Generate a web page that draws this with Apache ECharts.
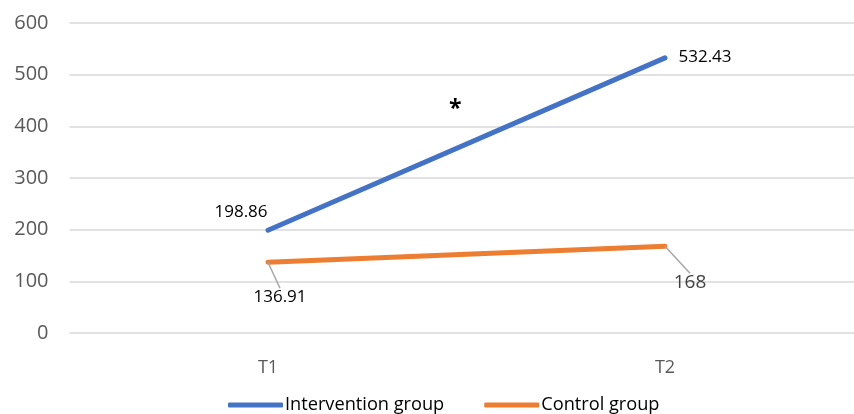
<!DOCTYPE html>
<html>
<head>
<meta charset="utf-8">
<script src="https://cdn.jsdelivr.net/npm/echarts@6/dist/echarts.min.js"></script>
<style>html,body{margin:0;padding:0;background:#fff}#c{width:854px;height:414px}</style>
</head>
<body>
<div id="c"></div>
<script>
var categories = ['T1', 'T2'];
var interventionValues = [198.86, 532.43];
var controlValues = [136.91, 168];
var yTicks = [0, 100, 200, 300, 400, 500, 600];
var seriesNames = ['Intervention group', 'Control group'];

var FONT = 'Open Sans';
var chart = echarts.init(document.getElementById('c'));
var layouts = [
  [{dx: -27, dy: -5}, {dx: 40, dy: 13}],
  [{dx: 12, dy: 48}, {dx: 25, dy: 51}]
];
chart.setOption({
  animation: false,
  textStyle: {fontFamily: FONT},
  grid: {left: 69.5, right: -9.5, top: 23, bottom: 81, outerBoundsMode: 'none', containLabel: false},
  legend: {
    bottom: -5, left: 223,
    itemWidth: 55, itemHeight: 5, itemGap: 40,
    icon: 'roundRect',
    textStyle: {fontSize: 18.2, color: '#000', fontFamily: FONT, padding: [0,0,0,-3]},
    data: seriesNames
  },
  xAxis: {
    type: 'category', data: categories, boundaryGap: true,
    axisLine: {show: false}, axisTick: {show: false},
    axisLabel: {fontSize: 18, color: '#595959', margin: 26, fontFamily: FONT}
  },
  yAxis: {
    type: 'value', min: yTicks[0], max: yTicks[yTicks.length - 1], interval: 100,
    axisLine: {show: false}, axisTick: {show: false},
    axisLabel: {fontSize: 20, color: '#595959', margin: 21, fontFamily: FONT},
    splitLine: {lineStyle: {color: '#d9d9d9', width: 1.5}}
  },
  series: [
    {
      name: seriesNames[0], type: 'line', data: interventionValues,
      symbol: 'circle', symbolSize: 0.01, showSymbol: true,
      lineStyle: {width: 5, color: '#4472C4', cap: 'round'},
      itemStyle: {color: '#4472C4'},
      label: {show: true, position: 'top', fontSize: 17, color: '#000', fontFamily: FONT},
      labelLayout: function (p) { return layouts[0][p.dataIndex]; }
    },
    {
      name: seriesNames[1], type: 'line',
      symbol: 'circle', symbolSize: 0.01, showSymbol: true,
      lineStyle: {width: 5, color: '#ED7D31', cap: 'round'},
      itemStyle: {color: '#ED7D31'},
      label: {show: true, position: 'top', fontSize: 17, color: '#000', fontFamily: FONT},
      labelLine: {show: true, lineStyle: {color: '#a6a6a6', width: 1.5}},
      labelLayout: function (p) { return layouts[1][p.dataIndex]; },
      data: [
        {value: controlValues[0]},
        {value: controlValues[1], label: {fontSize: 19, color: '#404040'}}
      ]
    }
  ],
  graphic: [{
    type: 'text', left: 449, top: 98,
    style: {text: '*', fontSize: 23, fontWeight: 'bold', fill: '#000', fontFamily: FONT}
  }]
});
</script>
</body>
</html>
